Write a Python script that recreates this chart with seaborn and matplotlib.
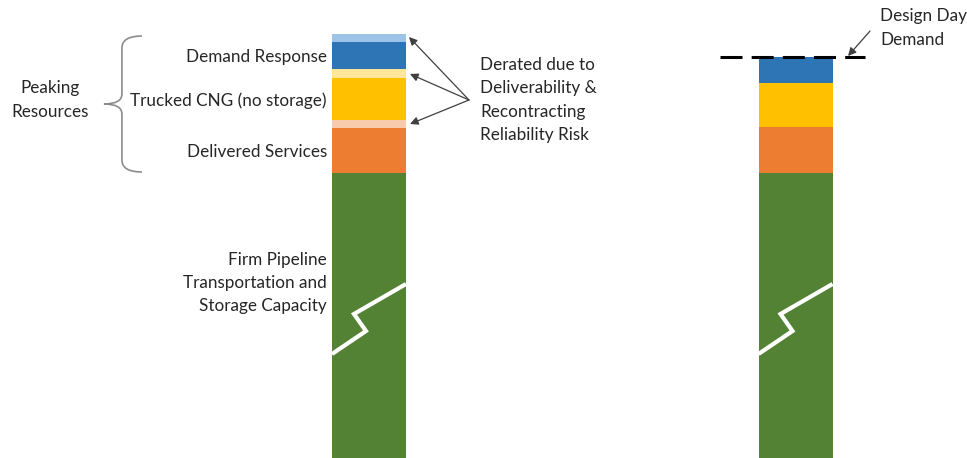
import numpy as np
import pandas as pd
import matplotlib
matplotlib.use("Agg")
import matplotlib.pyplot as plt
import seaborn as sns
from matplotlib.path import Path
from matplotlib.patches import PathPatch

# ---------------- data ----------------
categories = ["Current Portfolio", "Design Day"]
layers = ["Firm Pipeline", "Delivered Services", "Derate DS", "Trucked CNG",
          "Derate CNG", "Demand Response", "Derate DR"]
left_values = [285, 45, 8, 42, 9, 27, 8]
right_values = [285, 46, 0, 44, 0, 26, 0]
layer_colors = ["#548235", "#ED7D31", "#F8CBAD", "#FFC000", "#FFE699",
                "#2E75B6", "#9DC3E6"]
design_day_demand = 401

sns.set_theme(style="white")
plt.rcParams['font.family'] = ['Lato', 'DejaVu Sans']

rows = []
for cat, vals in zip(categories, [left_values, right_values]):
    cum = np.cumsum(vals)
    for lay, c in zip(layers, cum):
        rows.append({"category": cat, "layer": lay, "top": c})
df = pd.DataFrame(rows)

fig = plt.figure(figsize=(9.67, 4.58), dpi=100)
ax = fig.add_axes([0, 0, 1, 1])

# draw cumulative bars from top layer down (overlay to create the stack)
for lay, col in reversed(list(zip(layers, layer_colors))):
    sub = df[df["layer"] == lay]
    sns.barplot(data=sub, x="category", y="top", order=categories, color=col,
                saturation=1, width=0.1735, linewidth=0, ax=ax, errorbar=None)

ax.set_xlim(-0.865, 1.402)
ax.set_ylim(0, 458)
ax.axis("off")

def X(px):
    return (px - 369) / 426.5

def Y(py):
    return 458 - py

txt = "#262626"
fs = 12.3

# break marks (white zig-zag)
for off in [0, 426.5]:
    xs = [406 + off, 354 + off, 366 + off, 332 + off]
    ys = [284, 314, 331, 354]
    ax.plot([X(v) for v in xs], [Y(v) for v in ys], color="white", lw=3,
            solid_joinstyle="miter", solid_capstyle="butt")

# left labels
ax.text(X(327), Y(57), "Demand Response", ha="right", va="center", fontsize=fs, color=txt)
ax.text(X(327), Y(101), "Trucked CNG (no storage)", ha="right", va="center", fontsize=fs, color=txt)
ax.text(X(327), Y(152), "Delivered Services", ha="right", va="center", fontsize=fs, color=txt)
ax.text(X(327), Y(283), "Firm Pipeline\nTransportation and\nStorage Capacity", ha="right",
        va="center", fontsize=fs, color=txt, linespacing=1.5)
ax.text(X(50), Y(100), "Peaking\nResources", ha="center", va="center", fontsize=fs,
        color=txt, linespacing=1.62)

# brace
bx = 122
verts = [(X(bx + 20), Y(36)), (X(bx), Y(36)), (X(bx), Y(48)),
         (X(bx), Y(94)),
         (X(bx), Y(104)), (X(bx - 18), Y(104)),
         (X(bx), Y(104)), (X(bx), Y(114)),
         (X(bx), Y(160)),
         (X(bx), Y(172)), (X(bx + 20), Y(172))]
codes = [Path.MOVETO, Path.CURVE3, Path.CURVE3,
         Path.LINETO,
         Path.CURVE3, Path.CURVE3,
         Path.CURVE3, Path.CURVE3,
         Path.LINETO,
         Path.CURVE3, Path.CURVE3]
ax.add_patch(PathPatch(Path(verts, codes), fill=False, edgecolor="#8c8c8c", lw=1.2))

# derate annotation
ax.text(X(480), Y(100), "Derated due to\nDeliverability &\nRecontracting\nReliability Risk",
        ha="left", va="center", fontsize=fs, color=txt, linespacing=1.56)
for tx, ty in [(409, 37), (410, 74), (410, 124)]:
    ax.annotate("", xy=(X(tx), Y(ty)), xytext=(X(469), Y(100)),
                arrowprops=dict(arrowstyle="-|>", color="#404040", lw=0.9,
                                mutation_scale=12, shrinkA=0, shrinkB=0))

# design day demand line
ax.plot([X(720), X(865)], [design_day_demand, design_day_demand], color="black",
        lw=2.2, dashes=(7.2, 3.0))
ax.text(X(880), Y(28), "Design Day\nDemand", ha="left", va="center", fontsize=fs,
        color=txt, linespacing=1.62)
ax.annotate("", xy=(X(848), Y(56)), xytext=(X(870), Y(31)),
            arrowprops=dict(arrowstyle="-|>", color="#404040", lw=0.9,
                            mutation_scale=12, shrinkA=0, shrinkB=0))

fig.savefig("out.png", dpi=100)
